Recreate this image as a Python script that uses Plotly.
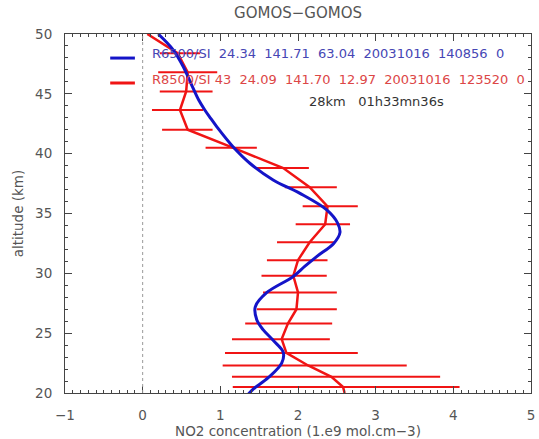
import plotly.graph_objects as go

# Blue profile (GOMOS R6500/SI)
blue_alt = [19.9, 20.3, 21.3, 22.5, 23.4, 24.4, 25.3, 26.1, 27.2, 28.4, 29.7, 30.6, 31.4,
            32.5, 33.4, 34.2, 35.3, 36.7, 37.8, 39.2, 40.6, 42.2, 43.0, 43.65, 44.5, 45.6,
            47.3, 48.7, 50.0]
blue_val = [1.36, 1.42, 1.62, 1.79, 1.81, 1.68, 1.55, 1.47, 1.45, 1.60, 1.93, 2.09, 2.24,
            2.46, 2.54, 2.51, 2.37, 2.02, 1.68, 1.38, 1.16, 0.96, 0.87, 0.80, 0.72, 0.64,
            0.52, 0.39, 0.20]

# Red profile (GOMOS R8500/SI 43) with error bars
red_alt = [20.0, 20.5, 21.35, 22.3, 23.35, 24.5, 25.8, 27.0, 28.4, 29.8, 31.1, 32.6, 34.1,
           35.6, 37.2, 38.8, 40.5, 42.0, 43.65, 45.2, 46.8, 48.4, 50.0]
red_val = [2.60, 2.58, 2.43, 2.13, 1.85, 1.79, 1.87, 1.98, 2.00, 1.94, 2.00, 2.15, 2.35,
           2.38, 2.15, 1.81, 1.16, 0.58, 0.48, 0.56, 0.58, 0.45, 0.06]
red_lo = [2.60, 1.16, 1.15, 1.03, 1.06, 1.15, 1.32, 1.47, 1.55, 1.53, 1.60, 1.73, 1.97,
          2.06, 1.83, 1.47, 0.81, 0.25, 0.12, 0.22, 0.20, 0.22, 0.06]
red_hi = [2.60, 4.08, 3.83, 3.40, 2.77, 2.41, 2.44, 2.50, 2.50, 2.37, 2.38, 2.47, 2.67,
          2.77, 2.50, 2.14, 1.47, 0.90, 0.78, 0.90, 0.96, 0.74, 0.06]

x_ticks = [-1, 0, 1, 2, 3, 4, 5]
y_ticks = [20, 25, 30, 35, 40, 45, 50]

blue_label = "R6500/SI  24.34  141.71  63.04  20031016  140856  0"
red_label = "R8500/SI 43  24.09  141.70  12.97  20031016  123520  0"
info_label = "28km   01h33mn36s"

BLUE = "#1414c8"
RED = "#f01414"
FONT = "DejaVu Sans"
GREY = "#555555"

fig = go.Figure()

fig.add_trace(go.Scatter(
    x=red_val, y=red_alt, mode="lines",
    line=dict(color=RED, width=2.5),
    error_x=dict(type="data", symmetric=False,
                 array=[h - v for h, v in zip(red_hi, red_val)],
                 arrayminus=[v - l for v, l in zip(red_val, red_lo)],
                 color=RED, thickness=2, width=0),
    showlegend=False))

fig.add_trace(go.Scatter(
    x=blue_val, y=blue_alt, mode="lines",
    line=dict(color=BLUE, width=3, shape="spline"),
    showlegend=False))

fig.add_vline(x=0, line=dict(color="#999999", width=1, dash="dot"))

# legend-like annotation
fig.add_shape(type="line", xref="paper", yref="paper", x0=0.097, x1=0.150, y0=0.933, y1=0.933,
              line=dict(color=BLUE, width=3))
fig.add_shape(type="line", xref="paper", yref="paper", x0=0.097, x1=0.150, y0=0.8635, y1=0.8635,
              line=dict(color=RED, width=3))
fig.add_annotation(xref="paper", yref="paper", x=0.182, y=0.947, xanchor="left", yanchor="middle",
                   text=blue_label, showarrow=False, font=dict(family=FONT, size=13, color="#4646b4"))
fig.add_annotation(xref="paper", yref="paper", x=0.182, y=0.872, xanchor="left", yanchor="middle",
                   text=red_label, showarrow=False, font=dict(family=FONT, size=13, color="#dc4646"))
fig.add_annotation(xref="paper", yref="paper", x=0.519, y=0.812, xanchor="left", yanchor="middle",
                   text=info_label, showarrow=False, font=dict(family=FONT, size=13, color="#333333"))

axis_common = dict(showgrid=False, zeroline=False, showline=True, linecolor="#444444", linewidth=1,
                   mirror="allticks", ticks="inside", ticklen=7, tickcolor="#444444",
                   automargin=False,
                   tickfont=dict(family=FONT, size=13.5, color=GREY))

fig.update_xaxes(range=[-1, 5], tickvals=x_ticks, ticktext=[str(v).replace("-", "−") for v in x_ticks],
                 minor=dict(dtick=0.1, ticks="inside", ticklen=3, tickcolor="#444444"),
                 ticklabelstandoff=10,
                 title=dict(text="NO2 concentration (1.e9 mol.cm−3)",
                            font=dict(family=FONT, size=13.5, color=GREY), standoff=4),
                 **axis_common)
fig.update_yaxes(range=[20, 50], tickvals=y_ticks,
                 minor=dict(dtick=1, ticks="inside", ticklen=3, tickcolor="#444444"),
                 ticklabelstandoff=9,
                 title=dict(text="altitude (km)", font=dict(family=FONT, size=13.5, color=GREY), standoff=8),
                 **axis_common)

fig.update_layout(
    width=539, height=439,
    margin=dict(l=65, r=8, t=34, b=46),
    paper_bgcolor="white", plot_bgcolor="white",
    title=dict(text="GOMOS−GOMOS", x=0.5530, xanchor="center", y=0.970, yanchor="middle",
               font=dict(family=FONT, size=15, color=GREY)),
)

fig.write_html("out.html")
